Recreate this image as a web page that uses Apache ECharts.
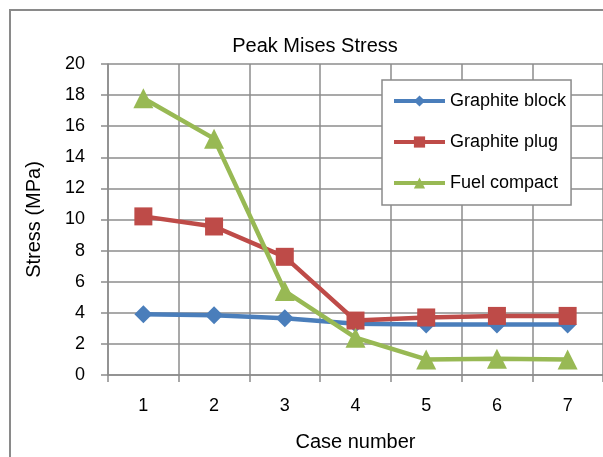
<!DOCTYPE html>
<html>
<head>
<meta charset="utf-8">
<script src="https://cdn.jsdelivr.net/npm/echarts@6/dist/echarts.min.js"></script>
<style>
  html, body { margin: 0; padding: 0; background: #fff; }
  #chart { width: 603px; height: 457px; }
</style>
</head>
<body>
<div id="chart"></div>
<script>
var caseNumbers = ['1', '2', '3', '4', '5', '6', '7']
var graphiteBlock = [3.9, 3.85, 3.65, 3.3, 3.25, 3.25, 3.25]
var graphitePlug = [10.2, 9.55, 7.6, 3.5, 3.7, 3.8, 3.8]
var fuelCompact = [17.8, 15.2, 5.4, 2.4, 1.0, 1.05, 1.0]

var chart = echarts.init(document.getElementById('chart'))
var font = 'Liberation Sans, Arial, sans-serif'
var gridColor = '#8c8c8c'

chart.setOption({
  backgroundColor: '#fff',
  animation: false,
  title: {
    text: 'Peak Mises Stress',
    left: 310,
    top: 31,
    textAlign: 'center',
    textStyle: { color: '#000', fontSize: 20, fontWeight: 'normal', fontFamily: font }
  },
  graphic: [{
    type: 'rect',
    shape: { x: 10, y: 10, width: 640, height: 500 },
    style: { fill: 'none', stroke: '#8a8a8a', lineWidth: 2 },
    z: 0
  }],
  legend: {
    orient: 'vertical',
    left: 382,
    top: 80,
    padding: [12, 5, 13, 10],
    itemGap: 23,
    itemWidth: 51,
    itemHeight: 14,
    backgroundColor: '#fff',
    borderColor: '#8a8a8a',
    borderWidth: 1.5,
    lineStyle: { width: 4 },
    textStyle: { color: '#000', fontSize: 18, fontFamily: font },
    data: ['Graphite block', 'Graphite plug', 'Fuel compact']
  },
  grid: {
    left: 108,
    right: -4,
    top: 64,
    bottom: 81,
    containLabel: false
  },
  xAxis: {
    type: 'category',
    data: caseNumbers,
    boundaryGap: true,
    name: 'Case number',
    nameLocation: 'middle',
    nameGap: 57,
    nameTextStyle: { color: '#000', fontSize: 20, fontFamily: font },
    axisLine: { lineStyle: { color: gridColor, width: 1.5 } },
    axisTick: { show: true, length: 7, lineStyle: { color: gridColor, width: 1.5 } },
    axisLabel: { color: '#000', fontSize: 18, fontFamily: font, margin: 22 },
    splitLine: { show: true, lineStyle: { color: gridColor, width: 1.5 } }
  },
  yAxis: {
    type: 'value',
    min: 0,
    max: 20,
    interval: 2,
    name: 'Stress (MPa)',
    nameLocation: 'middle',
    nameGap: 64,
    nameRotate: 90,
    nameTextStyle: { color: '#000', fontSize: 20, fontFamily: font },
    axisLine: { show: true, lineStyle: { color: gridColor, width: 1.5 } },
    axisTick: { show: true, length: 7, lineStyle: { color: gridColor, width: 1.5 } },
    axisLabel: { color: '#000', fontSize: 18, fontFamily: font, margin: 23 },
    splitLine: { show: true, lineStyle: { color: gridColor, width: 1.5 } }
  },
  series: [{
    name: 'Graphite block',
    type: 'line',
    data: graphiteBlock,
    symbol: 'diamond',
    symbolSize: 18,
    color: '#4a7ebb',
    lineStyle: { width: 4.5 },
    z: 3
  }, {
    name: 'Graphite plug',
    type: 'line',
    data: graphitePlug,
    symbol: 'rect',
    symbolSize: 18,
    color: '#be4b48',
    lineStyle: { width: 4.5 },
    z: 4
  }, {
    name: 'Fuel compact',
    type: 'line',
    data: fuelCompact,
    symbol: 'triangle',
    symbolSize: 20,
    color: '#98b954',
    lineStyle: { width: 4.5 },
    z: 5
  }]
})
</script>
</body>
</html>
